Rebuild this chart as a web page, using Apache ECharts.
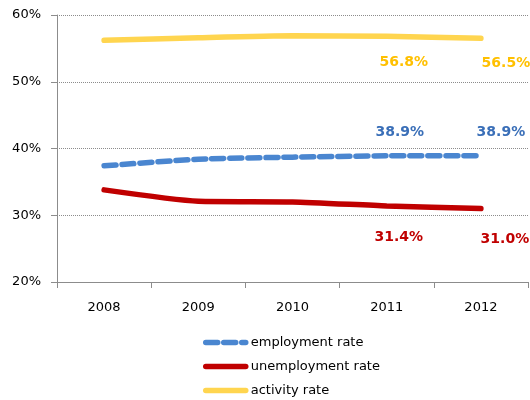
<!DOCTYPE html>
<html>
<head>
<meta charset="utf-8">
<script src="https://cdn.jsdelivr.net/npm/echarts@6/dist/echarts.min.js"></script>
<style>html,body{margin:0;padding:0;background:#fff}#c{width:530px;height:400px}</style>
</head>
<body>
<div id="c"></div>
<script>
var categories = ['2008', '2009', '2010', '2011', '2012'];
var employment = [37.4, 38.4, 38.7, 38.9, 38.9];
var unemployment = [33.8, 32.1, 32.0, 31.4, 31.0];
var activity = [56.2, 56.6, 56.9, 56.8, 56.5];
var labelledIdx = [3, 4];
var yTicks = [20, 30, 40, 50, 60];

var FONT = 'DejaVu Sans';

function mkData(vals, color, offsets) {
  return vals.map(function (v, i) {
    var k = labelledIdx.indexOf(i);
    if (k < 0) return v;
    return {
      value: v,
      label: {
        show: true,
        position: 'inside',
        offset: offsets[k],
        formatter: function (p) { return p.value.toFixed(1) + '%'; },
        color: color,
        fontFamily: FONT,
        fontWeight: 'bold',
        fontSize: 14
      }
    };
  });
}

var chart = echarts.init(document.getElementById('c'), null, {renderer: 'canvas'});
chart.setOption({
  animation: false,
  grid: {left: 57, right: 2, top: 15, bottom: 118, containLabel: false},
  legend: {
    orient: 'vertical',
    left: 203,
    top: 336,
    height: 120,
    padding: 0,
    itemWidth: 40,
    itemHeight: 6,
    itemGap: 11,
    itemStyle: {opacity: 0},
    lineStyle: {width: 5.5},
    textStyle: {fontFamily: FONT, fontSize: 13, color: '#000'},
    data: ['employment rate', 'unemployment rate', 'activity rate']
  },
  xAxis: {
    type: 'category',
    data: categories,
    boundaryGap: true,
    axisLine: {lineStyle: {color: '#8c8c8c', width: 1}},
    axisTick: {show: true, length: 6, lineStyle: {color: '#8c8c8c'}},
    axisLabel: {fontFamily: FONT, fontSize: 13, color: '#000', margin: 19}
  },
  yAxis: {
    type: 'value',
    min: yTicks[0],
    max: yTicks[yTicks.length - 1],
    interval: 10,
    axisLine: {show: true, lineStyle: {color: '#8c8c8c', width: 1}},
    axisTick: {show: true, length: 6, lineStyle: {color: '#8c8c8c'}},
    axisLabel: {fontFamily: FONT, fontSize: 13, color: '#000', margin: 16,
      formatter: function (v) { return v + '%'; }},
    splitLine: {show: true, lineStyle: {color: '#8c8c8c', type: [1, 1], width: 1}}
  },
  series: [
    {
      name: 'employment rate', type: 'line', smooth: 0.2, symbol: 'circle', symbolSize: 1, showAllSymbol: true,
      data: mkData(employment, '#3a6fb8', [[13, -23], [20, -23]]),
      lineStyle: {color: '#4a86d0', width: 5.5, type: [12, 6], cap: 'round'},
      itemStyle: {color: 'rgba(0,0,0,0)'}, z: 3
    },
    {
      name: 'unemployment rate', type: 'line', smooth: 0.2, symbol: 'circle', symbolSize: 1, showAllSymbol: true,
      data: mkData(unemployment, '#c00000', [[12, 31], [24, 31]]),
      lineStyle: {color: '#c00000', width: 5.5, cap: 'round'},
      itemStyle: {color: 'rgba(0,0,0,0)'}, z: 3
    },
    {
      name: 'activity rate', type: 'line', smooth: 0.2, symbol: 'circle', symbolSize: 1, showAllSymbol: true,
      data: mkData(activity, '#ffc000', [[17, 26], [25, 25]]),
      lineStyle: {color: '#ffd54f', width: 5.5, cap: 'round'},
      itemStyle: {color: 'rgba(0,0,0,0)'}, z: 3
    }
  ]
});
</script>
</body>
</html>
